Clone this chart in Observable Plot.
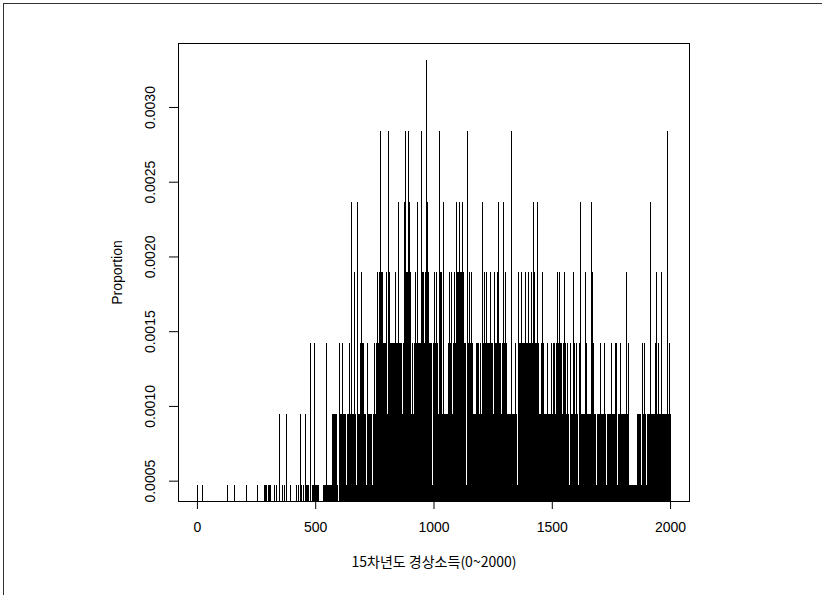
<!DOCTYPE html>
<html>
<head>
<meta charset="utf-8">
<script src="https://cdn.jsdelivr.net/npm/d3@7"></script>
<script src="https://cdn.jsdelivr.net/npm/@observablehq/plot@0.6"></script>
<style>
  html, body { margin: 0; padding: 0; background: #fff; }
  #wrap { position: relative; width: 822px; height: 595px; overflow: hidden; }
  #edge { position: absolute; left: 3px; top: 3px; width: 830px; height: 600px;
          border-top: 1.5px solid #333; border-left: 1.5px solid #333; pointer-events: none; }
</style>
</head>
<body>
<div id="wrap"><div id="edge"></div></div>
<script>
// Income categories read at a resolution of 4 units (0, 4, 8, ..., 2000)
const binWidth = 4;
const counts = [
  1,0,0,0,0,1,0,0,0,0, 0,0,0,0,0,0,0,0,0,0, 0,0,0,0,0,0,0,0,0,0, 0,0,1,0,0,0,0,0,0,1, 0,0,0,0,0,0,0,0,0,0,
  0,0,1,0,0,0,0,0,0,0, 0,0,0,1,0,0,0,0,0,0, 0,1,1,1,0,1,1,1,0,0, 0,1,0,0,1,0,0,2,0,0, 1,0,1,0,2,0,0,0,1,0,
  0,0,0,0,0,1,0,1,0,2, 1,0,1,0,2,1,1,1,0,1, 3,0,1,1,3,1,1,1,1,0, 0,0,0,1,1,1,3,1,1,1, 1,1,1,2,2,2,2,2,1,0,
  3,2,2,3,2,2,2,0,1,2, 2,3,2,5,2,2,4,2,1,5, 2,2,3,4,3,2,3,2,2,1, 3,2,2,2,2,1,2,3,2,3, 4,3,4,6,4,3,4,3,3,3,
  4,2,6,4,3,3,3,3,3,4, 3,3,3,5,3,3,3,2,3,5, 6,4,4,6,5,4,2,3,2,3, 4,3,3,5,3,3,3,6,4,4, 3,4,7,5,4,3,3,3,1,3,
  4,3,3,4,3,2,6,4,4,2, 5,2,2,2,2,3,4,3,4,3, 2,3,4,3,5,4,4,5,4,4, 5,4,3,3,1,6,3,4,3,3, 4,3,2,2,2,3,3,3,2,3,
  2,5,3,4,3,2,4,3,3,3, 4,3,3,2,4,3,3,4,5,3, 3,2,3,5,3,2,4,3,2,2, 2,2,6,2,2,2,3,2,1,4, 3,3,4,2,3,3,3,4,3,3,
  4,3,3,4,3,5,4,3,3,5, 3,1,2,2,3,4,3,2,2,2, 3,2,2,2,3,2,3,3,2,3, 3,4,3,4,3,3,2,3,4,3, 2,3,2,1,3,2,2,4,3,2,
  2,3,2,1,3,5,2,2,2,2, 4,3,2,2,2,2,5,4,2,3, 2,2,1,2,2,2,3,2,2,2, 3,2,1,2,2,2,1,2,3,2, 2,2,3,3,1,2,2,3,2,2,
  2,2,2,4,2,2,3,1,1,1, 1,1,1,1,1,2,2,2,2,1, 3,2,3,2,2,1,2,2,2,5, 2,2,2,2,3,4,2,3,2,2, 4,2,2,1,2,2,2,6,2,3,
  2
];
const total = 2113;
const xTicks = [0, 500, 1000, 1500, 2000];
const yTicks = [0.0005, 0.0010, 0.0015, 0.0020, 0.0025, 0.0030];
const xLabel = "15차년도 경상소득(0~2000)";
const yLabel = "Proportion";

const data = counts
  .map((c, i) => ({income: i * binWidth, prop: c / total}))
  .filter(d => d.prop > 0);

const yMin = 0.000364, yMax = 0.003428;
const font = "'Liberation Sans', Arial, 'Noto Sans CJK KR', sans-serif";

const chart = Plot.plot({
  width: 822,
  height: 595,
  marginLeft: 178,
  marginRight: 133,
  marginTop: 43,
  marginBottom: 94,
  style: {fontFamily: font, fontSize: "14px", color: "#000", background: "#fff"},
  x: {domain: [-80, 2080]},
  y: {domain: [yMin, yMax]},
  marks: [
    Plot.ruleX(data, {x: "income", y1: yMin, y2: "prop", stroke: "#000", strokeWidth: 1, shapeRendering: "crispEdges"}),
    Plot.frame({stroke: "#000", strokeWidth: 1}),
    Plot.axisX({ticks: xTicks, tickSize: 8, tickPadding: 13, tickFormat: d => String(d), fontSize: 14, label: null}),
    Plot.axisY({ticks: yTicks, tickSize: 9, tickFormat: () => "", label: null}),
    Plot.text(yTicks, {y: d => d, text: d => d.toFixed(4), frameAnchor: "left", textAnchor: "middle", lineAnchor: "middle", dx: -28, rotate: -90, fontSize: 14, fill: "#000"}),
    Plot.text([xLabel], {frameAnchor: "bottom", textAnchor: "middle", dy: 65, text: d => d, fontSize: 14, fill: "#000", fontFamily: "'Noto Sans CJK KR', 'Liberation Sans', sans-serif"}),
    Plot.text([yLabel], {frameAnchor: "left", textAnchor: "middle", lineAnchor: "middle", dx: -61, rotate: -90, text: d => d, fontSize: 14, fill: "#000"})
  ]
});
document.getElementById("wrap").prepend(chart);
</script>
</body>
</html>
